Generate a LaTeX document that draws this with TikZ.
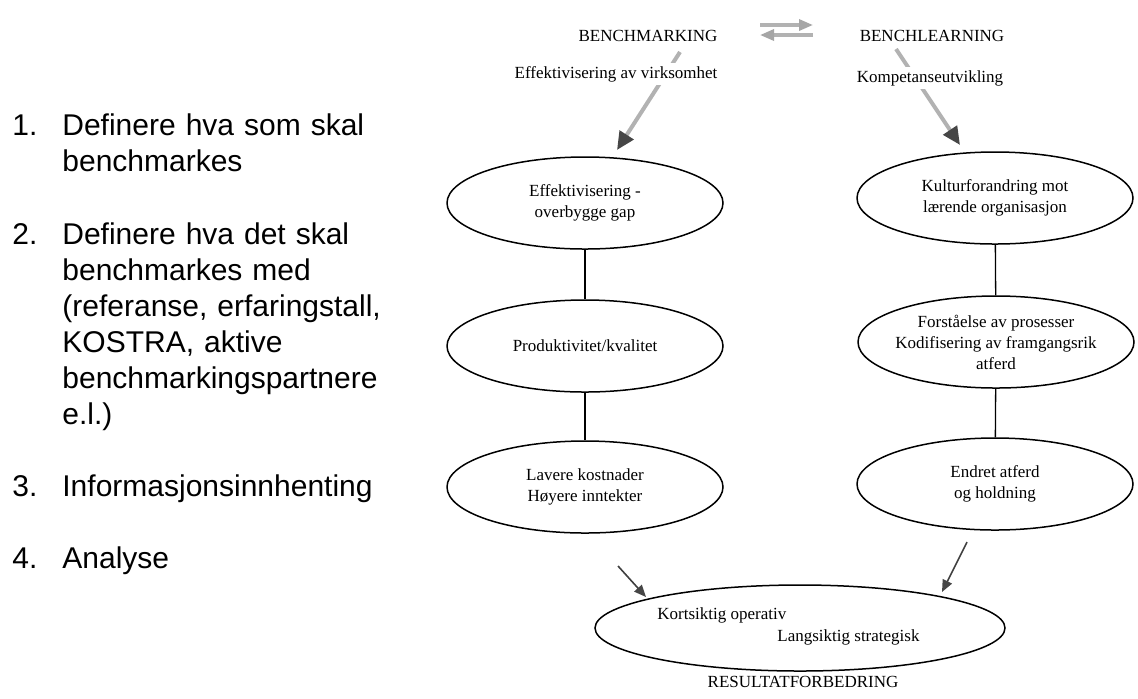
\documentclass[tikz,border=0pt]{standalone}
\usepackage{fontspec}
\setmainfont{Liberation Serif}
\newfontfamily\listfont{Liberation Sans}
\usetikzlibrary{arrows.meta,shapes.geometric}

\begin{document}
\begin{tikzpicture}[x=0.5pt,y=-0.5pt,
  every node/.style={inner sep=0pt},
  diagfont/.style={font=\fontsize{8.5}{10.5}\selectfont},
  oval/.style={diagfont, draw=black, line width=0.75pt, ellipse,
    inner xsep=-2pt, minimum width=138pt, minimum height=46pt, align=center},
  heading/.style={diagfont, anchor=base},
  midlabel/.style={diagfont, anchor=base, fill=white, inner sep=1.5pt},
  listnum/.style={font=\listfont\fontsize{15}{18}\selectfont, anchor=base west},
  listtext/.style={font=\listfont\fontsize{15}{18}\selectfont, anchor=base west,
    text width=220pt, align=left},
  link/.style={line width=0.65pt},
  swaparrow/.style={draw=gray!60, line width=1.6pt,
    -{Triangle[length=7pt,width=5.5pt,fill=gray!70,color=gray!70]}},
  bigarrow/.style={draw=gray!60, line width=2pt,
    -{Triangle[length=9pt,width=8pt,fill=gray!55!black,color=gray!55!black]}},
  smallarrow/.style={draw=black!75, line width=0.8pt,
    -{Triangle[length=6pt,width=5pt,fill=gray!55!black,color=gray!55!black]}}
]
\useasboundingbox (0,0) rectangle (1138,698);

% numbered list on the left
\node[listnum] (n1) at (12,135) {1.};
\node[listtext] (t1) at (62,135) {Definere hva som skal\\benchmarkes};
\node[listnum] (n2) at (12,244) {2.};
\node[listtext] (t2) at (62,244) {Definere hva det skal\\benchmarkes med\\(referanse, erfaringstall,\\KOSTRA, aktive\\benchmarkingspartnere\\e.l.)};
\node[listnum] (n3) at (12,496) {3.};
\node[listtext] (t3) at (62,496) {Informasjonsinnhenting};
\node[listnum] (n4) at (12,568) {4.};
\node[listtext] (t4) at (62,568) {Analyse};

% headings and the exchange arrows between them
\node[heading] (bm) at (648,41) {BENCHMARKING};
\node[heading] (bl) at (932,41) {BENCHLEARNING};
\coordinate (swA) at (760,25);
\coordinate (swB) at (813,25);
\coordinate (swC) at (813,35);
\coordinate (swD) at (760,35);
\draw[swaparrow] (swA) -- (swB);
\draw[swaparrow] (swC) -- (swD);

% the two columns of ovals
\node[oval] (e1) at (585,203) {Effektivisering -\\overbygge gap};
\node[oval] (e2) at (585,346) {Produktivitet/kvalitet};
\node[oval] (e3) at (585,487) {Lavere kostnader\\Høyere inntekter};
\node[oval] (e4) at (995,198) {Kulturforandring mot\\lærende organisasjon};
\node[oval] (e5) at (996,342) {Forståelse av prosesser\\Kodifisering av framgangsrik\\atferd};
\node[oval] (e6) at (995,484) {Endret atferd\\og holdning};

\draw[link] (e1) -- (e2);
\draw[link] (e2) -- (e3);
\draw[link] (e4) -- (e5);
\draw[link] (e5) -- (e6);

% arrows from the headings, interrupted by their labels
\coordinate (bmTail) at (680,52);
\coordinate (bmHead) at (617,150);
\draw[bigarrow] (bmTail) -- (bmHead);
\node[midlabel] (effv) at (616,78) {Effektivisering av virksomhet};

\coordinate (blTail) at (896,49);
\coordinate (blHead) at (960,145);
\draw[bigarrow] (blTail) -- (blHead);
\node[midlabel] (komp) at (930,82) {Kompetanseutvikling};

% result oval at the bottom
\node[draw=black, line width=0.75pt, ellipse, minimum width=205pt, minimum height=43pt] (res) at (800,628) {};
\node[diagfont, anchor=base west] (kort) at (657,619) {Kortsiktig operativ};
\node[diagfont, anchor=base west] (lang) at (777,641) {Langsiktig strategisk};
\node[heading] (resf) at (803,687) {RESULTATFORBEDRING};

\coordinate (lowL) at (618,566);
\coordinate (lowLtip) at (646,597);
\coordinate (lowR) at (967,542);
\coordinate (lowRtip) at (942,592);
\draw[smallarrow] (lowL) -- (lowLtip);
\draw[smallarrow] (lowR) -- (lowRtip);
\end{tikzpicture}
\end{document}
